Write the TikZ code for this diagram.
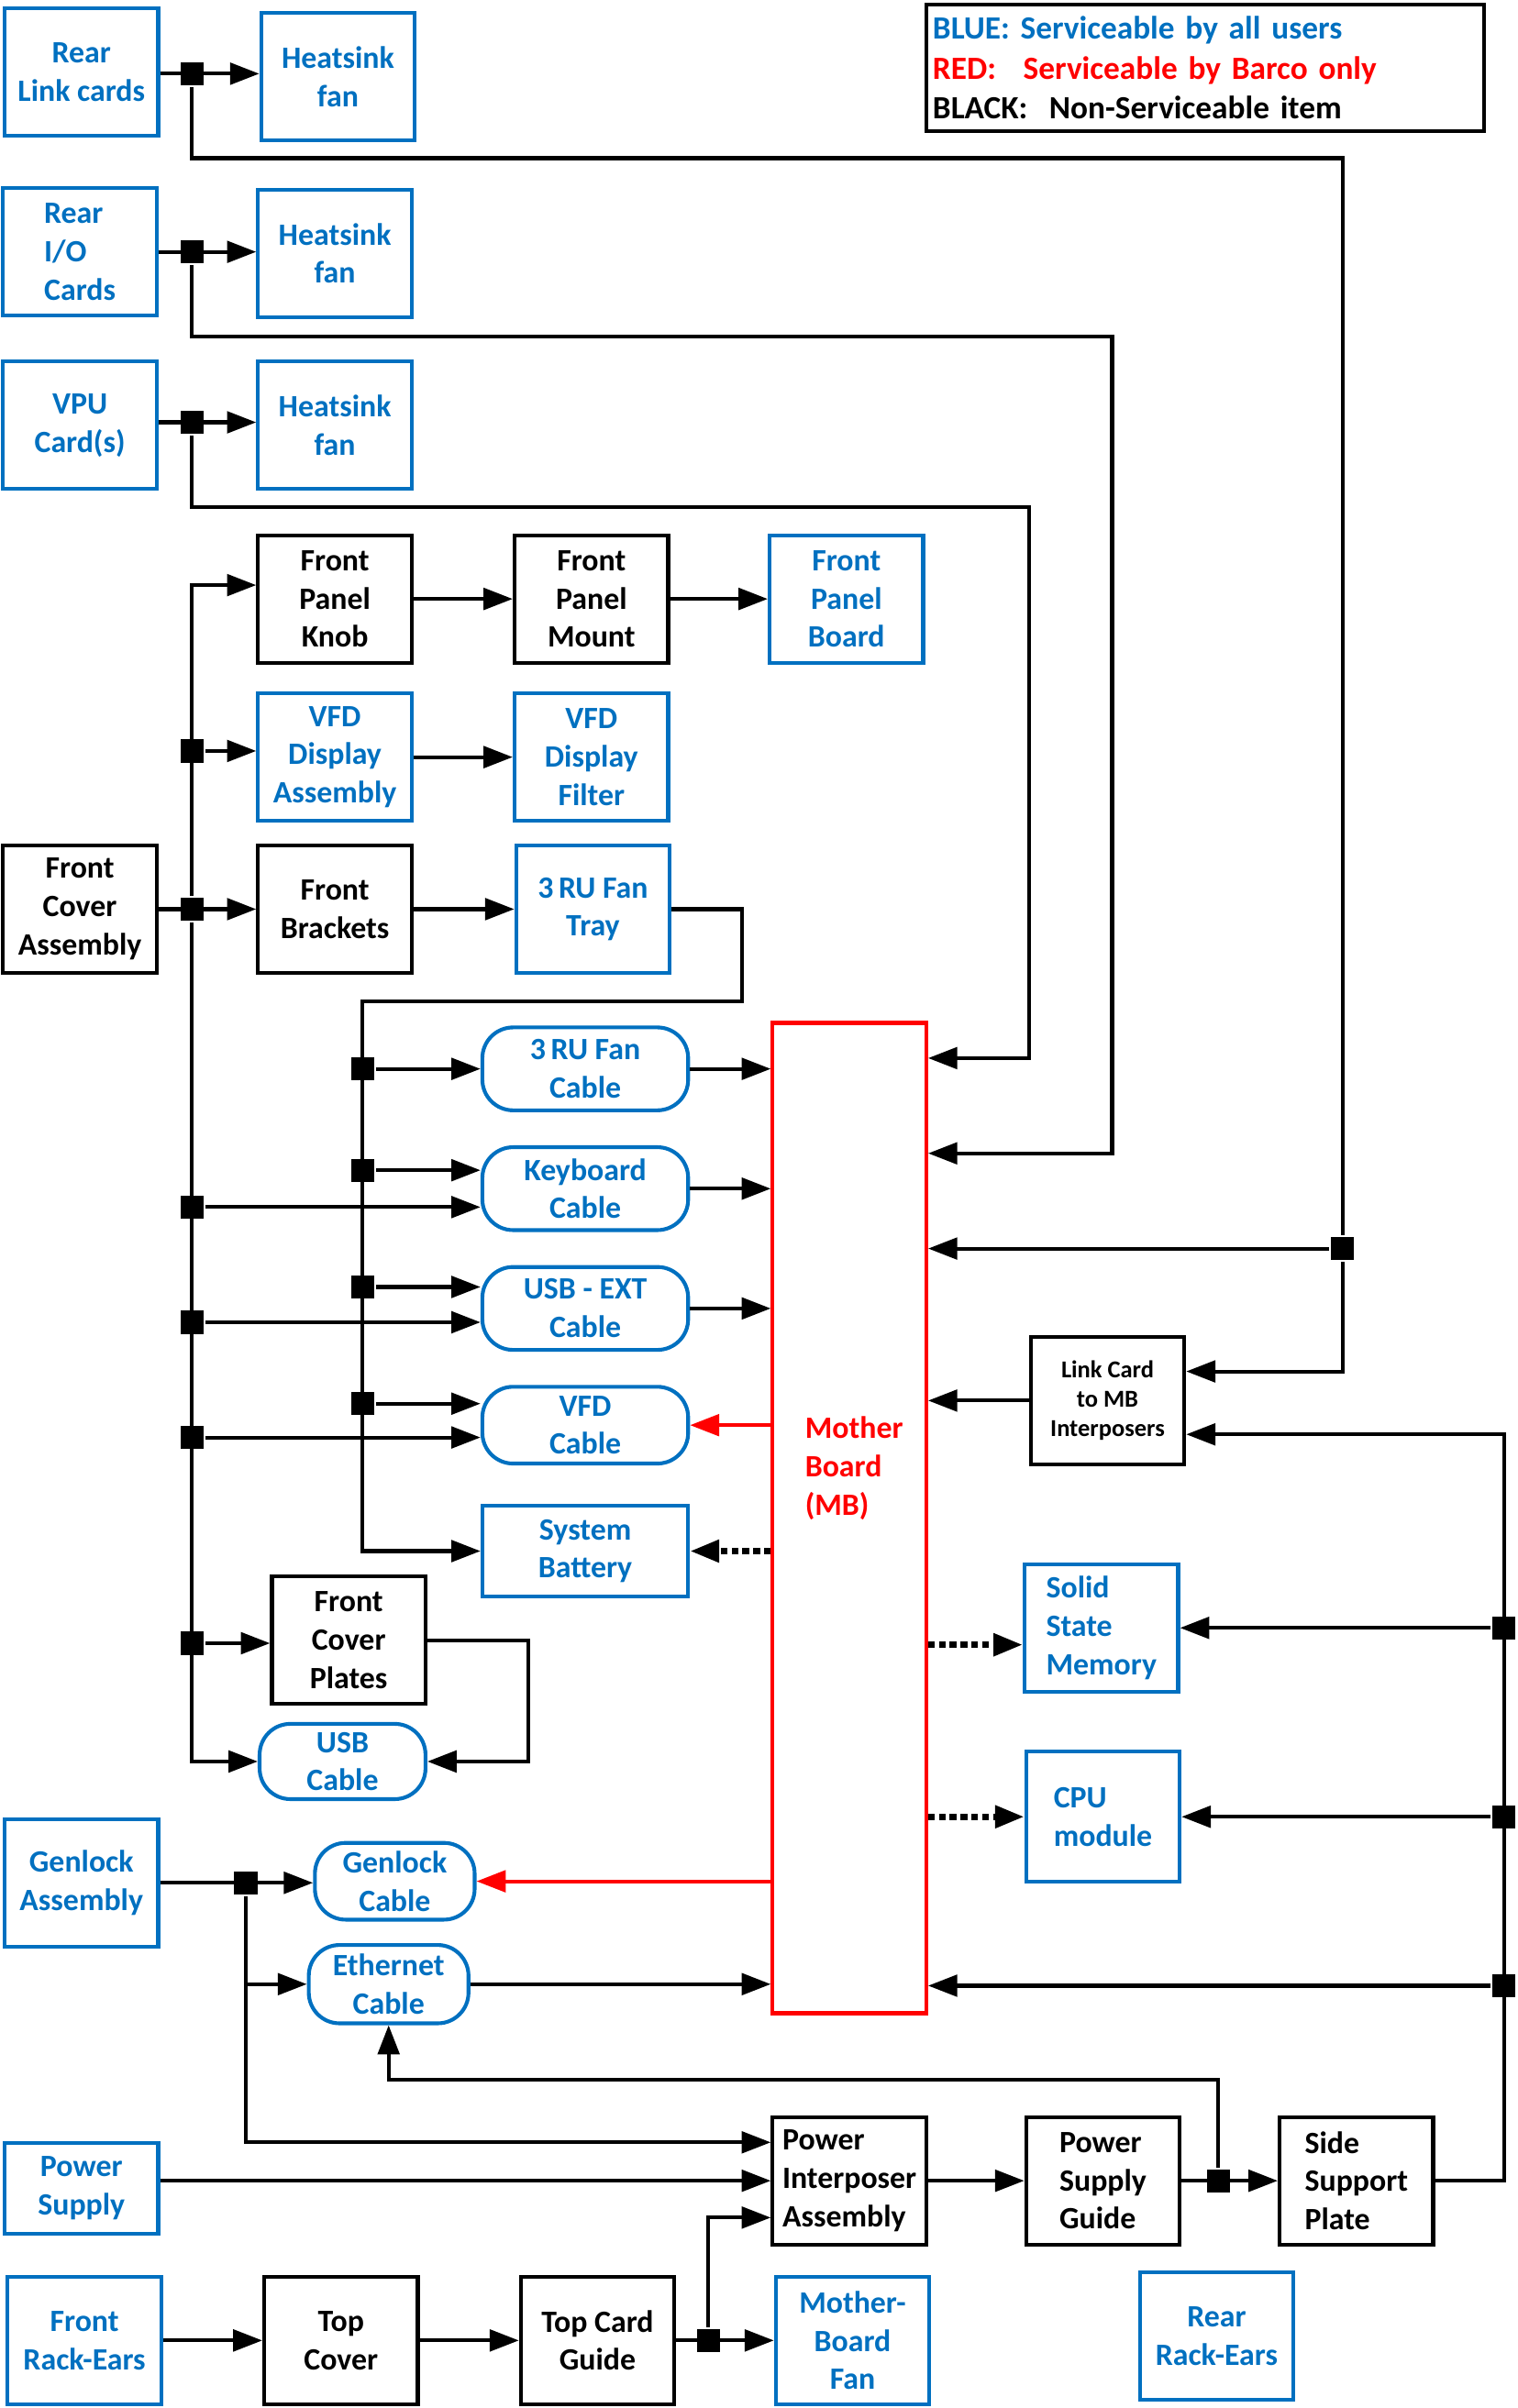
\documentclass[tikz,border=0pt]{standalone}
\usepackage{fontspec}
\setmainfont{Carlito}
\usepackage{tikz}
\usetikzlibrary{positioning,arrows.meta}
\usepackage{xcolor}
\definecolor{svcblue}{HTML}{0070C0}
\definecolor{svcred}{HTML}{FF0000}

\begin{document}
\begin{tikzpicture}[x=0.02cm,y=-0.02cm,
  font=\bfseries\fontsize{11.5}{14.2}\selectfont,
  every node/.style={inner sep=1pt,align=center},
  line width=1.4pt,
  >={Triangle[length=3.8mm,width=2.8mm]},
  part/.style={draw,line width=1.4pt,minimum width=2cm,minimum height=1.66cm},
  bluepart/.style={part,draw=svcblue,text=svcblue},
  blackpart/.style={part,draw=black},
  cable/.style={draw=svcblue,text=svcblue,line width=1.4pt,rounded corners=0.4cm,minimum width=2.68cm,minimum height=1.08cm},
  jn/.style={fill=black,minimum size=0.3cm,inner sep=0pt},
  dotlink/.style={dash pattern=on 2.5pt off 1.5pt,line width=2.4pt}]
\useasboundingbox (0,0) rectangle (988,1568);

\node[draw,line width=1.4pt,anchor=north west,align=left,text width=7.1cm,inner xsep=0.08cm,minimum height=1.64cm,font=\bfseries\fontsize{12}{14.8}\selectfont] (legend) at (602,2)
  {\textcolor{svcblue}{BLUE: Serviceable by all users}\\
   \textcolor{svcred}{\makebox[1.18cm][l]{RED:}Serviceable by Barco only}\\
   BLACK:\ \ Non-Serviceable item};

\node[bluepart] (rearlink) at (53,47) {Rear\\Link cards};
\node[bluepart] (fan1) at (220,50) {Heatsink\\fan};
\node[bluepart,align=left] (rearIO) at (52,164) {Rear\\I/O\\Cards};
\node[bluepart] (fan2) at (218,165) {Heatsink\\fan};
\node[bluepart] (vpu) at (52,277) {VPU\\Card(s)};
\node[bluepart] (fan3) at (218,277) {Heatsink\\fan};

\node[blackpart] (knob) at (218,390) {Front\\Panel\\Knob};
\node[blackpart] (mount) at (385,390) {Front\\Panel\\Mount};
\node[bluepart] (fpboard) at (551,390) {Front\\Panel\\Board};
\node[bluepart] (vfdasm) at (218,493) {VFD\\Display\\Assembly};
\node[bluepart] (vfdfilter) at (385,493) {VFD\\Display\\Filter};
\node[blackpart] (fca) at (52,592) {Front\\Cover\\Assembly};
\node[blackpart] (brackets) at (218,592) {Front\\Brackets};
\node[bluepart] (fantray) at (386,592) {3\,RU Fan\\Tray};

\node[cable] (fancable) at (381,696) {3\,RU Fan\\Cable};
\node[cable] (kbcable) at (381,774) {Keyboard\\Cable};
\node[cable] (usbext) at (381,852) {USB - EXT\\Cable};
\node[cable,minimum height=1.0cm] (vfdcable) at (381,928) {VFD\\Cable};
\node[bluepart,minimum width=2.68cm,minimum height=1.18cm] (battery) at (381,1010) {System\\Battery};

\node[draw=svcred,line width=1.4pt,minimum width=2cm,minimum height=12.9cm] (mb) at (553,988.5) {};
\node[text=svcred,align=left] (mbtext) at (556,956) {Mother\\Board\\(MB)};

\node[blackpart,font=\bfseries\fontsize{9}{11}\selectfont] (linkcard) at (721,912) {Link Card\\to MB\\Interposers};
\node[bluepart,align=left] (ssm) at (717,1060) {Solid\\State\\Memory};
\node[bluepart,align=left,minimum height=1.7cm] (cpu) at (718,1183) {CPU\\module};
\node[blackpart] (fcplates) at (227,1068) {Front\\Cover\\Plates};
\node[cable,minimum width=2.16cm,minimum height=0.98cm] (usbcable) at (223,1147) {USB\\Cable};
\node[bluepart] (genasm) at (53,1226) {Genlock\\Assembly};
\node[cable,minimum width=2.08cm,minimum height=1.0cm] (gencable) at (257,1225) {Genlock\\Cable};
\node[cable,minimum width=2.08cm,minimum height=1.02cm] (ethcable) at (253,1292) {Ethernet\\Cable};
\node[bluepart,minimum height=1.18cm] (psu) at (53,1425) {Power\\Supply};
\node[blackpart,align=left] (pia) at (553,1420) {Power\\Interposer\\Assembly};
\node[blackpart,align=left] (psguide) at (718,1420) {Power\\Supply\\Guide};
\node[blackpart,align=left] (sideplate) at (883,1420) {Side\\Support\\Plate};
\node[bluepart] (frontears) at (55,1524) {Front\\Rack-Ears};
\node[blackpart] (topcover) at (222,1524) {Top\\Cover};
\node[blackpart] (cardguide) at (389,1524) {Top Card\\Guide};
\node[bluepart] (mbfan) at (555,1524) {Mother-\\Board\\Fan};
\node[bluepart] (rearears) at (792,1521) {Rear\\Rack-Ears};

\node[jn] (j1) at (125,48) {};
\node[jn] (j2) at (125,164) {};
\node[jn] (j3) at (125,275) {};
\node[jn] (jb1) at (125,489) {};
\node[jn] (jb2) at (125,592) {};
\node[jn] (jb3) at (125,786) {};
\node[jn] (jb4) at (125,861) {};
\node[jn] (jb5) at (125,936) {};
\node[jn] (jb6) at (125,1070) {};
\node[jn] (jt1) at (236,696) {};
\node[jn] (jt2) at (236,762) {};
\node[jn] (jt3) at (236,838) {};
\node[jn] (jt4) at (236,914) {};
\node[jn] (jl) at (874,813) {};
\node[jn] (jr1) at (979,1060) {};
\node[jn] (jr2) at (979,1183) {};
\node[jn] (jr3) at (979,1293) {};
\node[jn] (jg) at (160,1226) {};
\node[jn] (jc) at (461,1524) {};
\node[jn] (jp) at (793,1420) {};

\coordinate (c1a) at (874,103);
\coordinate (c1b) at (874,893);
\coordinate (c2a) at (724,219);
\coordinate (c2b) at (724,751);
\coordinate (c3a) at (670,330);
\coordinate (c3b) at (670,689);
\coordinate (bt) at (125,381);
\coordinate (t2) at (483,652);
\coordinate (t3) at (236,652);
\coordinate (ssmdot) at ([yshift=-0.22cm]ssm.west);
\coordinate (rtop) at (979,934);
\coordinate (g1) at (160,1395);
\coordinate (p1) at (461,1444);
\coordinate (e1) at (793,1354);
\coordinate (e2) at (253,1354);

\draw[->] (rearlink.east |- j1) -- (fan1.west |- j1);
\draw[->] (rearIO.east |- j2) -- (fan2.west |- j2);
\draw[->] (vpu.east |- j3) -- (fan3.west |- j3);
\draw[->] (j1) |- (c1a) -- (jl) -- (mb.east |- jl);
\draw[->] (jl) -- (c1b) -- (linkcard.east |- c1b);
\draw[->] (j2) |- (c2a) -- (c2b) -- (mb.east |- c2b);
\draw[->] (j3) |- (c3a) -- (c3b) -- (mb.east |- c3b);

\draw[->] (fca.east) -- (brackets.west);
\draw[->] (jb2) |- (knob.west |- bt);
\draw[->] (jb2) |- (usbcable.west);
\draw[->] (jb1) -- (vfdasm.west |- jb1);
\draw[->] (jb3) -- (kbcable.west |- jb3);
\draw[->] (jb4) -- (usbext.west |- jb4);
\draw[->] (jb5) -- (vfdcable.west |- jb5);
\draw[->] (jb6) -- (fcplates.west |- jb6);
\draw[->] (fcplates.east) -| (344,1147) -- (usbcable.east);

\draw[->] (knob) -- (mount);
\draw[->] (mount) -- (fpboard);
\draw[->] (vfdasm) -- (vfdfilter);
\draw[->] (brackets) -- (fantray);

\draw[->] (fantray.east) -| (t2) -- (t3) |- (battery.west);
\draw[->] (jt1) -- (fancable.west |- jt1);
\draw[->] (jt2) -- (kbcable.west |- jt2);
\draw[->] (jt3) -- (usbext.west |- jt3);
\draw[->] (jt4) -- (vfdcable.west |- jt4);

\draw[->] (fancable.east) -- (mb.west |- fancable.east);
\draw[->] (kbcable.east) -- (mb.west |- kbcable.east);
\draw[->] (usbext.east) -- (mb.west |- usbext.east);
\draw[->,svcred] (mb.west |- vfdcable.east) -- (vfdcable.east);
\draw[->,dotlink] (mb.west |- battery.east) -- (battery.east);

\draw[->] (linkcard.west) -- (mb.east |- linkcard.west);
\draw[->,dotlink] (mb.east |- ssmdot) -- (ssmdot);
\draw[->,dotlink] (mb.east |- cpu.west) -- (cpu.west);
\draw[->] (sideplate.east) -| (rtop) -- (linkcard.east |- rtop);
\draw[->] (jr1) -- (ssm.east);
\draw[->] (jr2) -- (cpu.east);
\draw[->] (jr3) -- (mb.east |- jr3);

\draw[->] (genasm.east) -- (gencable.west |- genasm.east);
\draw[->,svcred] (mb.west |- gencable.east) -- (gencable.east);
\draw[->] (jg) -- (g1) -- (pia.west |- g1);
\draw[->] (jg |- ethcable.west) -- (ethcable.west);
\draw[->] (ethcable.east) -- (mb.west |- ethcable.east);
\draw[->] (psu.east |- pia.west) -- (pia.west);

\draw[->] (frontears) -- (topcover);
\draw[->] (topcover) -- (cardguide);
\draw[->] (cardguide) -- (mbfan);
\draw[->] (jc) -- (p1) -- (pia.west |- p1);
\draw[->] (pia) -- (psguide);
\draw[->] (psguide) -- (sideplate);
\draw[->] (jp) -- (e1) -- (e2) -- (ethcable.south);
\end{tikzpicture}
\end{document}
